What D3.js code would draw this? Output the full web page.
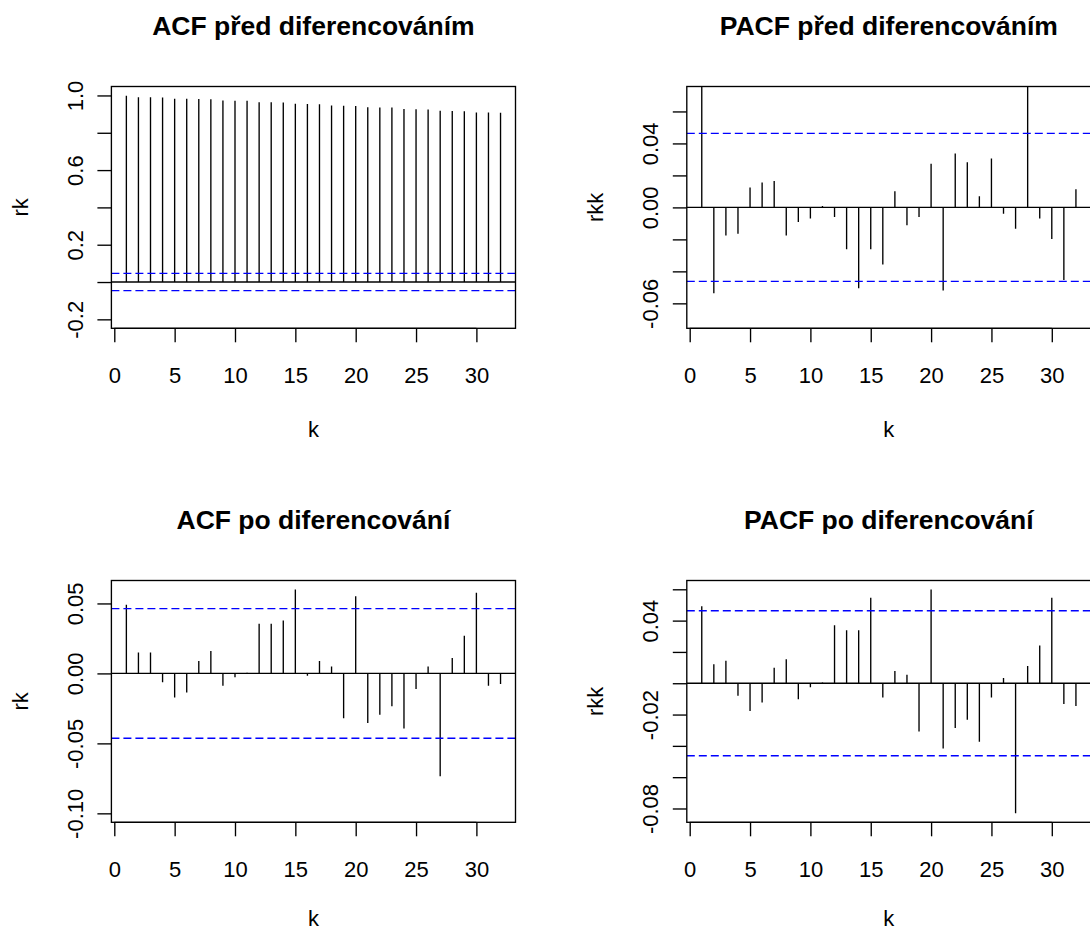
<!DOCTYPE html>
<html>
<head>
<meta charset="utf-8">
<script src="https://cdn.jsdelivr.net/npm/d3@7"></script>
<style>
  body { margin: 0; background: #fff; }
  svg { display: block; }
  text { font-family: "Liberation Sans", Arial, Helvetica, sans-serif; fill: #000; }
</style>
</head>
<body>
<svg id="chart" width="1090" height="931"></svg>
<script>
// Lags shown on every correlogram
const lags = [1, 2, 3, 4, 5, 6, 7, 8, 9, 10, 11, 12, 13, 14, 15, 16,
              17, 18, 19, 20, 21, 22, 23, 24, 25, 26, 27, 28, 29, 30, 31, 32];

// Sample ACF of the original series
const acfBefore = [0.998, 0.991, 0.990, 0.989, 0.983, 0.982, 0.981, 0.980,
                   0.973, 0.972, 0.971, 0.964, 0.963, 0.962, 0.955, 0.954,
                   0.953, 0.946, 0.945, 0.944, 0.937, 0.936, 0.935, 0.927,
                   0.926, 0.925, 0.918, 0.917, 0.916, 0.909, 0.908, 0.907];

// Sample PACF of the original series
const pacfBefore = [0.998, -0.0537, -0.0176, -0.0165, 0.0124, 0.0155, 0.0165, -0.0176,
                    -0.0091, -0.0070, 0.0008, -0.0060, -0.0262, -0.0506, -0.0262, -0.0357,
                    0.0101, -0.0112, -0.0060, 0.0273, -0.0519, 0.0337, 0.0283, 0.0070,
                    0.0306, -0.0039, -0.0134, 0.0900, -0.0070, -0.0198, -0.0454, 0.0114];

// Sample ACF after first differencing
const acfAfter = [0.0491, 0.0149, 0.0149, -0.0064, -0.0173, -0.0137, 0.0088, 0.0161,
                  -0.0088, -0.0028, 0.0005, 0.0355, 0.0355, 0.0379, 0.0600, -0.0017,
                  0.0088, 0.0050, -0.0320, 0.0552, -0.0355, -0.0296, -0.0235, -0.0393,
                  -0.0111, 0.0050, -0.0735, 0.0111, 0.0270, 0.0576, -0.0088, -0.0076];

// Sample PACF after first differencing
const pacfAfter = [0.0491, 0.0121, 0.0144, -0.0080, -0.0178, -0.0123, 0.0099, 0.0154,
                   -0.0102, -0.0025, 0.0004, 0.0370, 0.0338, 0.0338, 0.0546, -0.0091,
                   0.0078, 0.0055, -0.0309, 0.0599, -0.0417, -0.0286, -0.0233, -0.0374,
                   -0.0091, 0.0034, -0.0831, 0.0110, 0.0241, 0.0546, -0.0133, -0.0146];

// Approximate 95% bound
const clim = 0.0463;

// Axis ticks and their labels
const xTicks = [0, 5, 10, 15, 20, 25, 30];

const yTicksAcfBefore  = [-0.2, 0, 0.2, 0.4, 0.6, 0.8, 1.0];
const yLabelsAcfBefore = ["-0.2", "", "0.2", "", "0.6", "", "1.0"];

const yTicksPacfBefore  = [-0.06, -0.04, -0.02, 0, 0.02, 0.04, 0.06];
const yLabelsPacfBefore = ["-0.06", "", "", "0.00", "", "0.04", ""];

const yTicksAcfAfter  = [-0.10, -0.05, 0, 0.05];
const yLabelsAcfAfter = ["-0.10", "-0.05", "0.00", "0.05"];

const yTicksPacfAfter  = [-0.08, -0.06, -0.04, -0.02, 0, 0.02, 0.04, 0.06];
const yLabelsPacfAfter = ["-0.08", "", "", "-0.02", "", "", "0.04", ""];

// Panel definitions: data plus plot-region geometry
const panels = [
  { title: "ACF před diferencováním", ylab: "rk", values: acfBefore,
    ylim: [-0.2, 1.0], yTicks: yTicksAcfBefore, yLabels: yLabelsAcfBefore,
    left: 111.4, right: 515.5, top: 86.5, bottom: 328.3, xlabOffset: 109 },
  { title: "PACF před diferencováním", ylab: "rkk", values: pacfBefore,
    ylim: [-0.07, 0.07], yTicks: yTicksPacfBefore, yLabels: yLabelsPacfBefore,
    left: 686.8, right: 1090.9, top: 86.5, bottom: 328.3, xlabOffset: 109 },
  { title: "ACF po diferencování", ylab: "rk", values: acfAfter,
    ylim: [-0.10, 0.06], yTicks: yTicksAcfAfter, yLabels: yLabelsAcfAfter,
    left: 111.4, right: 515.5, top: 580.5, bottom: 822.3, xlabOffset: 104 },
  { title: "PACF po diferencování", ylab: "rkk", values: pacfAfter,
    ylim: d3.extent(pacfAfter), yTicks: yTicksPacfAfter, yLabels: yLabelsPacfAfter,
    left: 686.8, right: 1090.9, top: 580.5, bottom: 822.3, xlabOffset: 104 }
];

const svg = d3.select("#chart");
const FONT = 22;
const LW = 1.35;

// Extend a range by 4% on each side (R's default axis style)
function pad(lim) {
  const d = (lim[1] - lim[0]) * 0.04;
  return [lim[0] - d, lim[1] + d];
}

panels.forEach((p, idx) => {
  const x = d3.scaleLinear().domain(pad(d3.extent(lags))).range([p.left, p.right]);
  const y = d3.scaleLinear().domain(pad(p.ylim)).range([p.bottom, p.top]);
  const g = svg.append("g");

  const clipId = "clip" + idx;
  svg.append("clipPath").attr("id", clipId)
    .append("rect")
    .attr("x", p.left).attr("y", p.top)
    .attr("width", p.right - p.left).attr("height", p.bottom - p.top);

  const plot = g.append("g").attr("clip-path", `url(#${clipId})`);

  // Spikes
  plot.selectAll("line.spike")
    .data(lags.map((k, i) => ({ k, v: p.values[i] })))
    .join("line")
    .attr("class", "spike")
    .attr("x1", d => x(d.k)).attr("x2", d => x(d.k))
    .attr("y1", y(0)).attr("y2", d => y(d.v))
    .attr("stroke", "#000").attr("stroke-width", LW);

  // Zero line
  plot.append("line")
    .attr("x1", p.left).attr("x2", p.right)
    .attr("y1", y(0)).attr("y2", y(0))
    .attr("stroke", "#000").attr("stroke-width", LW);

  // Confidence bounds
  plot.selectAll("line.bound")
    .data([clim, -clim])
    .join("line")
    .attr("class", "bound")
    .attr("x1", p.left).attr("x2", p.right)
    .attr("y1", d => y(d)).attr("y2", d => y(d))
    .attr("stroke", "#0000ff").attr("stroke-width", LW)
    .attr("stroke-dasharray", "8,4");

  // Box
  g.append("rect")
    .attr("x", p.left).attr("y", p.top)
    .attr("width", p.right - p.left).attr("height", p.bottom - p.top)
    .attr("fill", "none").attr("stroke", "#000").attr("stroke-width", LW);

  // X axis
  const xAxis = g.append("g")
    .attr("transform", `translate(0,${p.bottom})`)
    .call(d3.axisBottom(x).tickValues(xTicks).tickSize(14).tickPadding(25)
      .tickFormat(d3.format("d")));
  xAxis.select(".domain").remove();
  xAxis.selectAll(".tick line").attr("stroke", "#000").attr("stroke-width", LW);
  xAxis.selectAll(".tick text")
    .attr("font-size", FONT).attr("font-family", null).attr("fill", "#000");

  // Y axis with rotated labels
  const yAxis = g.append("g")
    .attr("transform", `translate(${p.left},0)`)
    .call(d3.axisLeft(y).tickValues(p.yTicks).tickSize(14)
      .tickFormat((d, i) => p.yLabels[i]));
  yAxis.select(".domain").remove();
  yAxis.selectAll(".tick line").attr("stroke", "#000").attr("stroke-width", LW);
  yAxis.selectAll(".tick text")
    .attr("x", null).attr("dy", null)
    .attr("text-anchor", "middle")
    .attr("transform", "translate(-28.5,0) rotate(-90)")
    .attr("font-size", FONT).attr("fill", "#000");

  // Domain line along the tick span
  g.append("line")
    .attr("x1", x(xTicks[0])).attr("x2", x(xTicks[xTicks.length - 1]))
    .attr("y1", p.bottom).attr("y2", p.bottom)
    .attr("stroke", "#000").attr("stroke-width", LW);

  const cx = (p.left + p.right) / 2;
  const cy = (p.top + p.bottom) / 2;

  // Title
  g.append("text")
    .attr("x", cx).attr("y", p.top - 52)
    .attr("text-anchor", "middle")
    .attr("font-size", 26.5).attr("font-weight", "bold")
    .text(p.title);

  // Axis titles
  g.append("text")
    .attr("x", cx).attr("y", p.bottom + p.xlabOffset)
    .attr("text-anchor", "middle")
    .attr("font-size", FONT)
    .text("k");

  g.append("text")
    .attr("transform", `translate(${p.left - 83.8},${cy}) rotate(-90)`)
    .attr("text-anchor", "middle")
    .attr("font-size", FONT)
    .text(p.ylab);
});
</script>
</body>
</html>
